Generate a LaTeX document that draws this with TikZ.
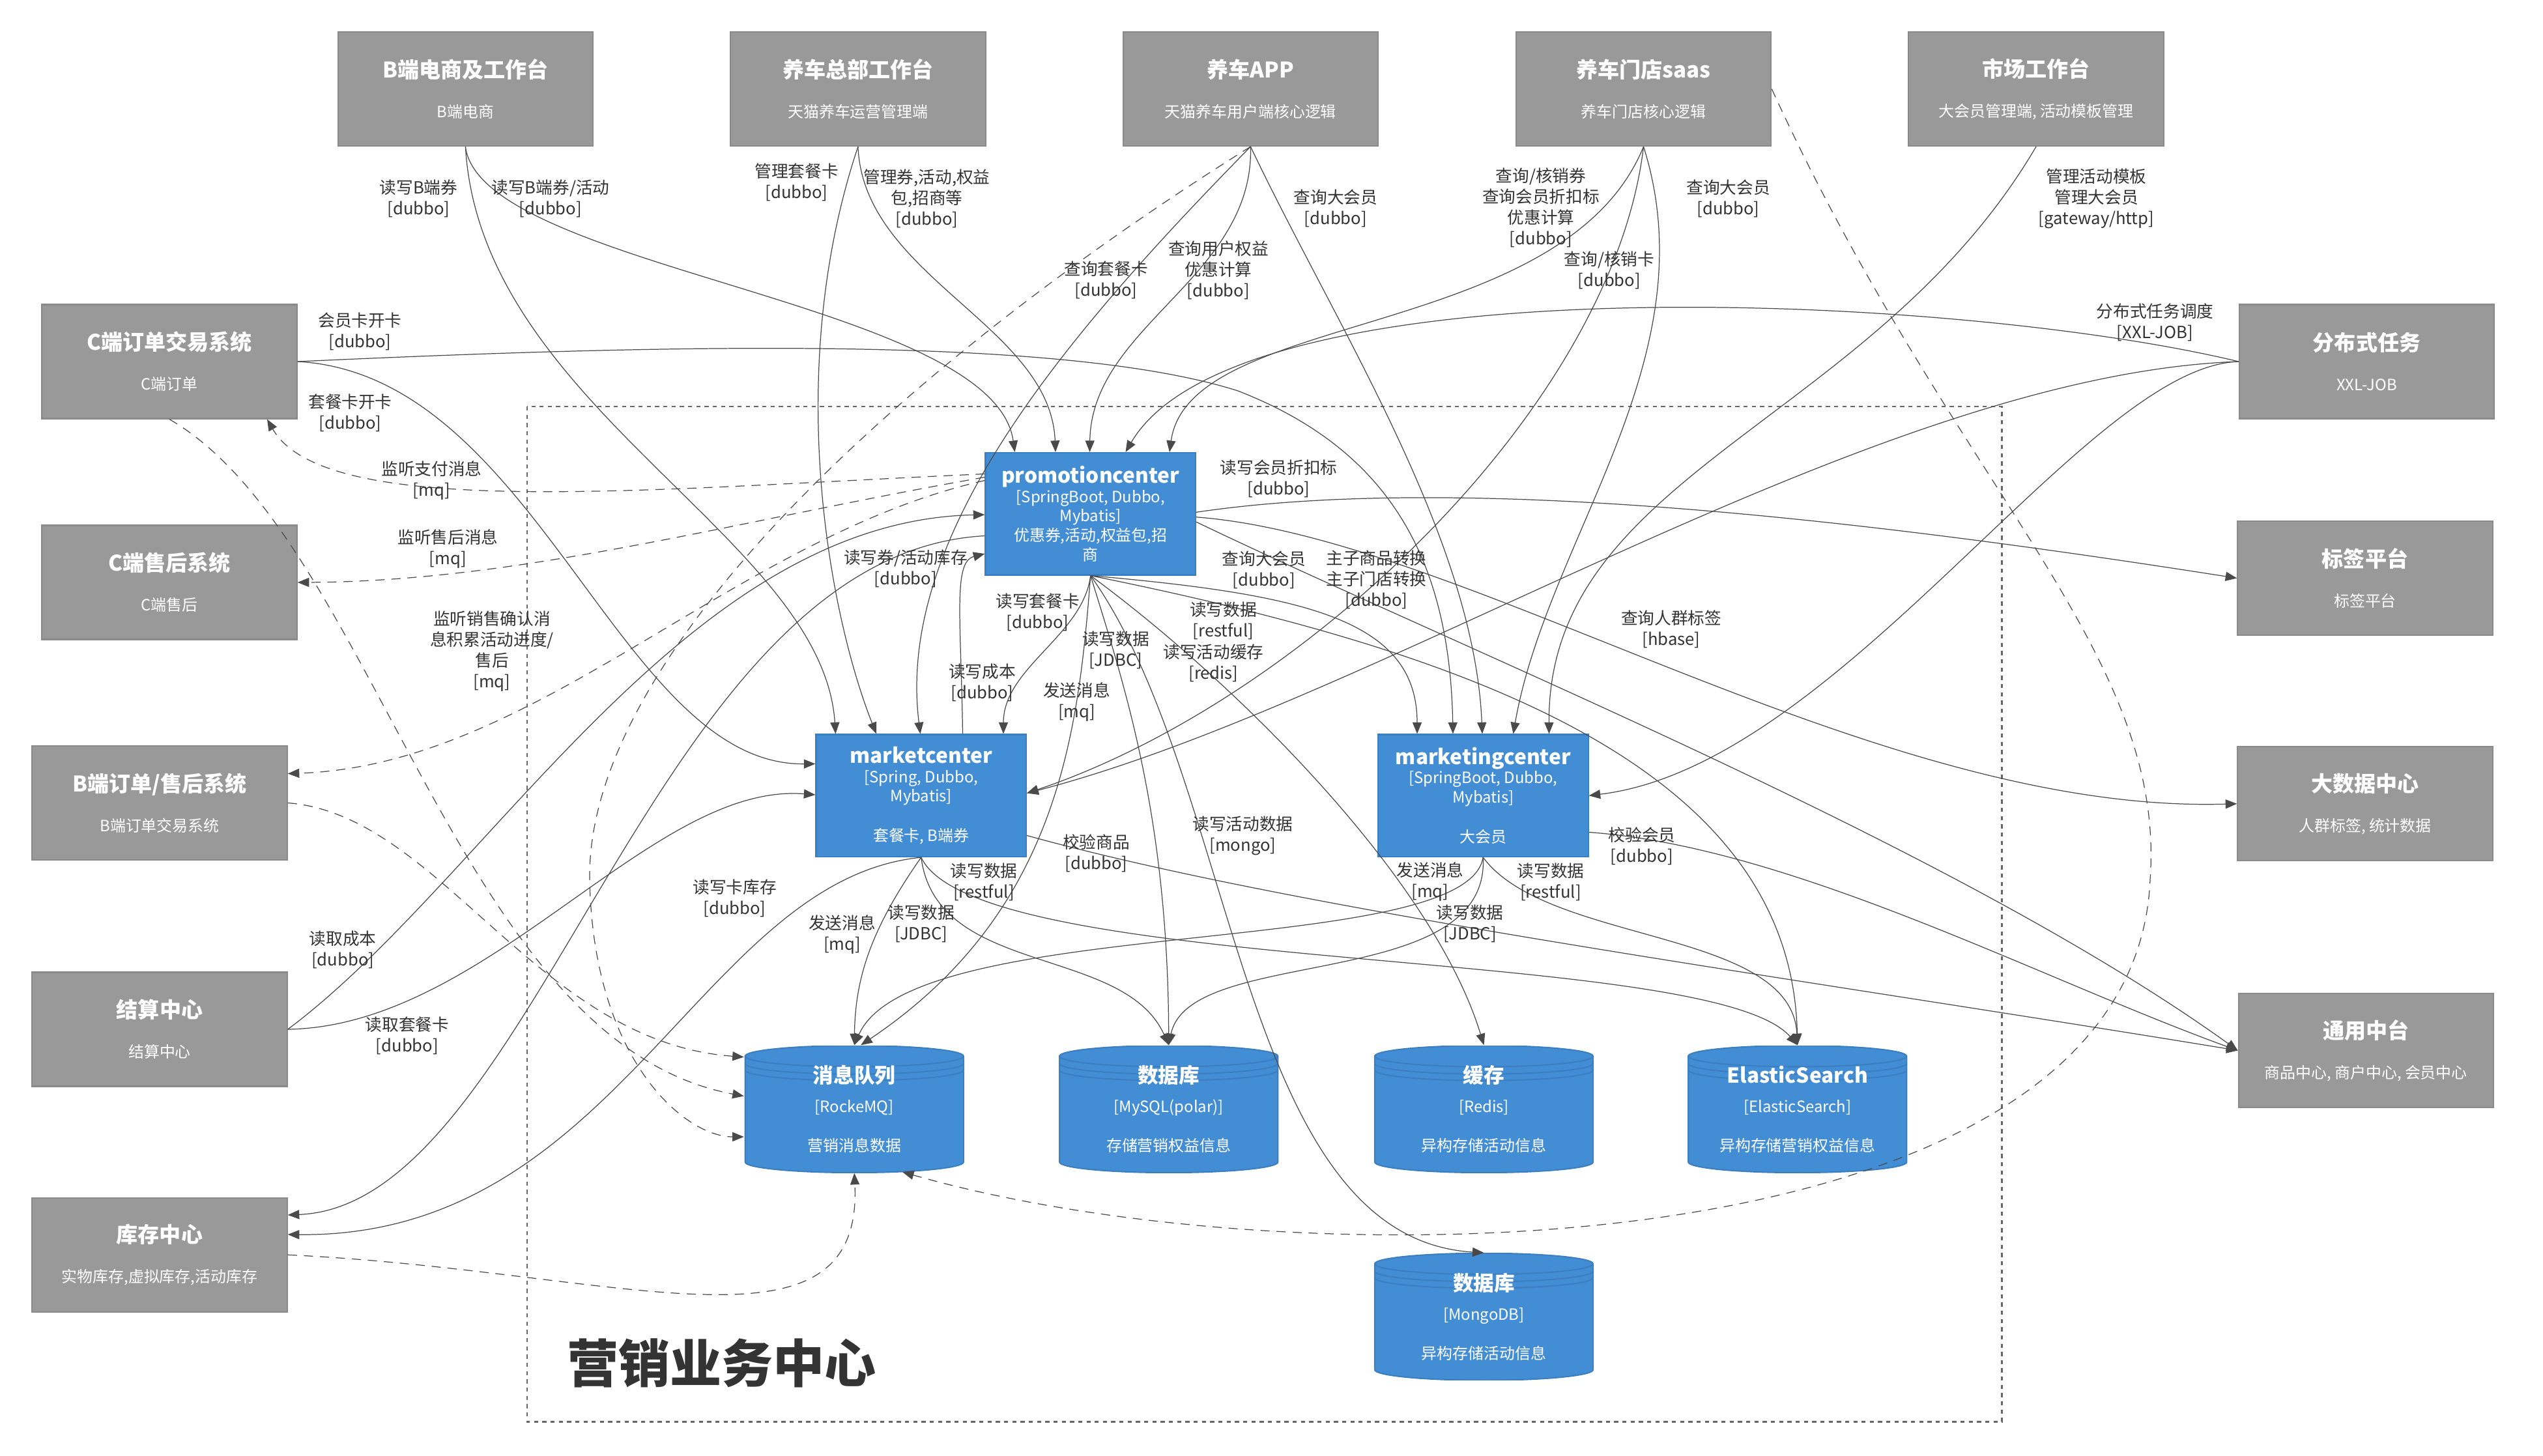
\documentclass[tikz,border=0pt]{standalone}
\usepackage{fontspec}
\setmainfont{Noto Sans CJK SC}
\usetikzlibrary{arrows.meta,calc}
\definecolor{extfill}{HTML}{999999}
\definecolor{extline}{HTML}{8A8A8A}
\definecolor{ctrfill}{HTML}{438DD5}
\definecolor{ctrline}{HTML}{3C7FC0}
\definecolor{linecol}{HTML}{4A4A4A}
\definecolor{txtcol}{HTML}{333333}
\definecolor{bndcol}{HTML}{666666}
\newcommand\systitle[1]{{\fontsize{9.4}{8.4}\selectfont\bfseries #1}}
\newcommand\ctrtitle[1]{{\fontsize{9}{8.4}\selectfont\bfseries #1}}

\begin{document}
\begin{tikzpicture}[x=0.025cm,y=-0.025cm,
  ext/.style={rectangle,draw=extline,fill=extfill,line width=.6pt,minimum width=3.9125cm,minimum height=1.75cm,
    inner sep=0pt,text=white,align=center,font=\fontsize{6.8}{8.4}\selectfont},
  ctr/.style={rectangle,draw=ctrline,fill=ctrfill,line width=.6pt,minimum width=3.225cm,minimum height=1.875cm,
    inner sep=0pt,text=white,align=center,font=\fontsize{6.8}{8.4}\selectfont},
  store/.style={minimum width=3.375cm,minimum height=1.95cm,inner sep=0pt,text=white,align=center,
    font=\fontsize{6.8}{8.4}\selectfont,
    path picture={
      \filldraw[fill=ctrfill,draw=ctrline,line width=.6pt]
        ($(path picture bounding box.north west)+(0.5,6.5)$)
        -- ($(path picture bounding box.south west)+(0.5,-6.5)$)
        arc[start angle=180,end angle=360,x radius=1.675cm,y radius=.1625cm]
        -- ($(path picture bounding box.north east)+(-0.5,6.5)$)
        arc[start angle=0,end angle=180,x radius=1.675cm,y radius=.1625cm] -- cycle;
      \foreach \dy in {6.5,11,15}
        \draw[ctrline,line width=.6pt] ($(path picture bounding box.north west)+(0.5,\dy)$)
          arc[start angle=180,end angle=360,x radius=1.675cm,y radius=.1625cm];}},
  lbl/.style={text=txtcol,align=center,inner sep=0pt,font=\fontsize{7.3}{9.1}\selectfont},
  rel/.style={draw=linecol,line width=.35pt,-{Triangle[length=5pt,width=4pt]}},
  async/.style={rel,dash pattern=on 4pt off 3pt}]

\useasboundingbox (0,0) rectangle (1561.2,893.6);

% boundary
\draw[bndcol,line width=.6pt,dash pattern=on 1.8pt off 1.8pt] (323.5,249.6) rectangle (1229,873);
\node[text=txtcol,font=\fontsize{22.5}{26}\selectfont\bfseries] (bndTitle) at (443,837) {营销业务中心};

% outside systems
\node[ext] (bEc) at (285.75,54.6) {\systitle{B端电商及工作台}\\[9pt]B端电商};
\node[ext] (hq) at (526.75,54.6) {\systitle{养车总部工作台}\\[9pt]天猫养车运营管理端};
\node[ext] (app) at (767.75,54.6) {\systitle{养车APP}\\[9pt]天猫养车用户端核心逻辑};
\node[ext] (saas) at (1009,54.6) {\systitle{养车门店saas}\\[9pt]养车门店核心逻辑};
\node[ext] (mkt) at (1250,54.6) {\systitle{市场工作台}\\[9pt]大会员管理端, 活动模板管理};

\node[ext] (cOrder) at (104,222) {\systitle{C端订单交易系统}\\[9pt]C端订单};
\node[ext] (cAfter) at (104,357.6) {\systitle{C端售后系统}\\[9pt]C端售后};
\node[ext] (bOrder) at (98,493) {\systitle{B端订单/售后系统}\\[9pt]B端订单交易系统};
\node[ext] (settle) at (98,632) {\systitle{结算中心}\\[9pt]结算中心};
\node[ext] (stock) at (98,770.5) {\systitle{库存中心}\\[9pt]实物库存,虚拟库存,活动库存};

\node[ext] (job) at (1453,222) {\systitle{分布式任务}\\[9pt]XXL-JOB};
\node[ext] (tag) at (1452,355) {\systitle{标签平台}\\[9pt]标签平台};
\node[ext] (bigdata) at (1452,493.5) {\systitle{大数据中心}\\[9pt]人群标签, 统计数据};
\node[ext] (common) at (1452.5,645) {\systitle{通用中台}\\[9pt]商品中心, 商户中心, 会员中心};

% containers
\node[ctr] (promo) at (669.5,315.5) {\ctrtitle{promotioncenter}\\{}[SpringBoot, Dubbo,\\Mybatis]\\优惠券,活动,权益包,招\\商};
\node[ctr] (market) at (565.5,488.5) {\ctrtitle{marketcenter}\\{}[Spring, Dubbo,\\Mybatis]\\[9pt]套餐卡, B端券};
\node[ctr] (marketing) at (910.5,488.5) {\ctrtitle{marketingcenter}\\{}[SpringBoot, Dubbo,\\Mybatis]\\[9pt]大会员};

\node[store] (mq) at (524.5,681) {\ctrtitle{消息队列}\\[4.4pt]{}[RockeMQ]\\[8.6pt]营销消息数据};
\node[store] (mysql) at (717.5,681) {\ctrtitle{数据库}\\[4.4pt]{}[MySQL(polar)]\\[8.6pt]存储营销权益信息};
\node[store] (redis) at (911,681) {\ctrtitle{缓存}\\[4.4pt]{}[Redis]\\[8.6pt]异构存储活动信息};
\node[store] (es) at (1103.5,681) {\ctrtitle{ElasticSearch}\\[4.4pt]{}[ElasticSearch]\\[8.6pt]异构存储营销权益信息};
\node[store] (mongo) at (911,808.5) {\ctrtitle{数据库}\\[4.4pt]{}[MongoDB]\\[8.6pt]异构存储活动信息};

% top systems
\draw[rel] (bEc.south) .. controls (295,250) and (505,330) .. ($(market.north)+(-52.5,0)$);
\draw[rel] (bEc.south) .. controls (295,165) and (610,185) .. ($(promo.north)+(-46.5,0)$);
\draw[rel] (hq.south) .. controls (480,230) and (510,380) .. ($(market.north)+(-27.5,0)$);
\draw[rel] (hq.south) .. controls (530,170) and (645,200) .. ($(promo.north)+(-21.5,0)$);
\draw[rel] (app.south) .. controls (650,210) and (550,330) .. ($(market.north)+(-0.5,0)$);
\draw[rel] (app.south) .. controls (770,170) and (670,200) .. ($(promo.north)+(-0.5,0)$);
\draw[rel] (app.south) .. controls (820,200) and (905,330) .. ($(marketing.north)+(-0.5,0)$);
\draw[async] (app.south) .. controls (560,220) and (360,400) .. (362,540)
  .. controls (364,650) and (420,698) .. ($(mq.west)+(0,17)$);
\draw[rel] (saas.south) .. controls (960,210) and (730,190) .. ($(promo.north)+(48.5,0)$);
\draw[rel] (saas.south) .. controls (990,250) and (800,430) .. ($(market.east)+(0,-1.5)$);
\draw[rel] (saas.south) .. controls (1050,220) and (950,330) .. ($(marketing.north)+(18.5,0)$);
\draw[async] (saas.east) .. controls (1200,300) and (1330,400) .. (1320,540)
  .. controls (1310,780) and (800,790) .. ($(mq.south)+(29.5,-0.7)$);
\draw[rel] (mkt.south) .. controls (1150,260) and (950,290) .. ($(marketing.north)+(40.5,0)$);

% job
\draw[rel] (job.west) .. controls (1200,180) and (760,160) .. ($(promo.north)+(21.5,0)$);
\draw[rel] (job.west) .. controls (1150,230) and (850,430) .. ($(market.east)+(0,-1.5)$);
\draw[rel] (job.west) .. controls (1280,225) and (1130,470) .. (marketing.east);

% left systems
\draw[rel] (cOrder.east) .. controls (330,230) and (380,470) .. ($(market.west)+(0,-19.5)$);
\draw[rel] (cOrder.east) .. controls (400,212) and (650,205) .. (760,240)
  .. controls (850,275) and (890,340) .. ($(marketing.north)+(-18.5,0)$);
\draw[async] (cOrder.south) .. controls (230,330) and (280,640) .. ($(mq.west)+(0,-8)$);
\draw[async] (bOrder.east) .. controls (270,500) and (330,640) .. ($(mq.west)+(0,-32)$);
\draw[async] (stock.east) .. controls (380,780) and (530,840) .. (mq.south);
\draw[rel] (settle.east) .. controls (300,540) and (420,320) .. ($(promo.west)+(0,0.5)$);
\draw[rel] (settle.east) .. controls (300,630) and (400,480) .. ($(market.west)+(0,-0.5)$);

% promotioncenter
\draw[async] ($(promo.west)+(0,-24.5)$) .. controls (400,300) and (200,320) .. ($(cOrder.south)+(60,0)$);
\draw[async] ($(promo.west)+(0,-22.5)$) .. controls (450,320) and (320,357) .. (cAfter.east);
\draw[async] ($(promo.west)+(0,-20.5)$) .. controls (450,330) and (330,470) .. ($(bOrder.east)+(0,-18)$);
\draw[rel] ($(promo.west)+(0,13.5)$) .. controls (400,340) and (330,740) .. ($(stock.east)+(0,-24.5)$);
\draw[rel] ($(market.north)+(25.5,0)$) .. controls (590,380) and (585,345) .. ($(promo.west)+(0,24.5)$);
\draw[rel] (promo.south) .. controls (800,365) and (870,380) .. ($(marketing.north)+(-40.5,0)$);
\draw[rel] (promo.south) .. controls (665,390) and (616,410) .. ($(market.north)+(50.5,0)$);
\draw[rel] (promo.south) .. controls (662,450) and (650,560) .. ($(mq.north)+(4,0)$);
\draw[rel] (promo.south) .. controls (690,420) and (717,500) .. (mysql.north);
\draw[rel] (promo.south) .. controls (760,420) and (880,540) .. (redis.north);
\draw[rel] (promo.south) .. controls (900,400) and (1100,470) .. (es.north);
\draw[rel] (promo.south) .. controls (760,480) and (760,760) .. (mongo.north);
\draw[rel] ($(promo.east)+(0,-1)$) .. controls (900,290) and (1150,320) .. (tag.west);
\draw[rel] ($(promo.east)+(0,2)$) .. controls (900,330) and (1150,500) .. (bigdata.west);
\draw[rel] ($(promo.east)+(0,5)$) .. controls (900,400) and (1200,520) .. (common.west);

% marketcenter
\draw[rel] (market.south) .. controls (430,540) and (380,760) .. ($(stock.east)+(0,-12.5)$);
\draw[rel] (market.south) .. controls (535,570) and (525,600) .. (mq.north);
\draw[rel] (market.south) .. controls (575,600) and (690,580) .. (mysql.north);
\draw[rel] (market.south) .. controls (600,600) and (1050,580) .. (es.north);
\draw[rel] ($(market.east)+(0,24.5)$) .. controls (800,560) and (1100,600) .. (common.west);

% marketingcenter
\draw[rel] (marketing.south) .. controls (900,590) and (560,560) .. (mq.north);
\draw[rel] (marketing.south) .. controls (915,610) and (730,580) .. (mysql.north);
\draw[rel] (marketing.south) .. controls (950,580) and (1100,570) .. (es.north);
\draw[rel] ($(marketing.east)+(0,22.5)$) .. controls (1100,520) and (1250,600) .. (common.west);

% labels
\node[lbl] (lBecMarket) at (257,122) {读写B端券\\{}[dubbo]};
\node[lbl] (lBecPromo) at (338,122) {读写B端券/活动\\{}[dubbo]};
\node[lbl] (lHqMarket) at (489,112) {管理套餐卡\\{}[dubbo]};
\node[lbl] (lHqPromo) at (569,122) {管理券,活动,权益\\包,招商等\\{}[dubbo]};
\node[lbl] (lAppMarketing) at (820,128) {查询大会员\\{}[dubbo]};
\node[lbl] (lAppPromo) at (748,166) {查询用户权益\\优惠计算\\{}[dubbo]};
\node[lbl] (lAppMarket) at (679,172) {查询套餐卡\\{}[dubbo]};
\node[lbl] (lSaasPromo) at (946,127.5) {查询/核销券\\查询会员折扣标\\优惠计算\\{}[dubbo]};
\node[lbl] (lSaasMarket) at (988,166) {查询/核销卡\\{}[dubbo]};
\node[lbl] (lSaasMarketing) at (1061,122) {查询大会员\\{}[dubbo]};
\node[lbl] (lMktMarketing) at (1287,122) {管理活动模板\\管理大会员\\{}[gateway/http]};
\node[lbl] (lJobPromo) at (1323,198) {分布式任务调度\\{}[XXL-JOB]};
\node[lbl] (lCOrderMarketing) at (221,203.5) {会员卡开卡\\{}[dubbo]};
\node[lbl] (lCOrderMarket) at (215,253.5) {套餐卡开卡\\{}[dubbo]};
\node[lbl] (lPromoCOrder) at (265,295) {监听支付消息\\{}[mq]};
\node[lbl] (lPromoCAfter) at (275,337) {监听售后消息\\{}[mq]};
\node[lbl] (lPromoBOrder) at (302,400) {监听销售确认消\\息积累活动进度/\\售后\\{}[mq]};
\node[lbl] (lPromoStock) at (556,349) {读写券/活动库存\\{}[dubbo]};
\node[lbl] (lPromoTag) at (785,294) {读写会员折扣标\\{}[dubbo]};
\node[lbl] (lPromoMarketing) at (776,350) {查询大会员\\{}[dubbo]};
\node[lbl] (lPromoCommon) at (845,356) {主子商品转换\\主子门店转换\\{}[dubbo]};
\node[lbl] (lPromoBigdata) at (1026,386.5) {查询人群标签\\{}[hbase]};
\node[lbl] (lPromoMarket) at (637,376) {读写套餐卡\\{}[dubbo]};
\node[lbl] (lPromoEs) at (751,381) {读写数据\\{}[restful]};
\node[lbl] (lPromoMysql) at (685,399) {读写数据\\{}[JDBC]};
\node[lbl] (lPromoRedis) at (745,407) {读写活动缓存\\{}[redis]};
\node[lbl] (lMarketPromo) at (603,419) {读写成本\\{}[dubbo]};
\node[lbl] (lPromoMq) at (661,431) {发送消息\\{}[mq]};
\node[lbl] (lPromoMongo) at (763,513) {读写活动数据\\{}[mongo]};
\node[lbl] (lMarketCommon) at (673,524) {校验商品\\{}[dubbo]};
\node[lbl] (lMarketingCommon) at (1008,519.5) {校验会员\\{}[dubbo]};
\node[lbl] (lMarketStock) at (451,551.5) {读写卡库存\\{}[dubbo]};
\node[lbl] (lMarketEs) at (604,541.5) {读写数据\\{}[restful]};
\node[lbl] (lMarketMq) at (517,574) {发送消息\\{}[mq]};
\node[lbl] (lMarketMysql) at (565.5,567) {读写数据\\{}[JDBC]};
\node[lbl] (lSettlePromo) at (210.5,583) {读取成本\\{}[dubbo]};
\node[lbl] (lSettleMarket) at (250,636) {读取套餐卡\\{}[dubbo]};
\node[lbl] (lMarketingMq) at (878,541.5) {发送消息\\{}[mq]};
\node[lbl] (lMarketingEs) at (952,541.5) {读写数据\\{}[restful]};
\node[lbl] (lMarketingMysql) at (902.5,567) {读写数据\\{}[JDBC]};
\end{tikzpicture}
\end{document}
